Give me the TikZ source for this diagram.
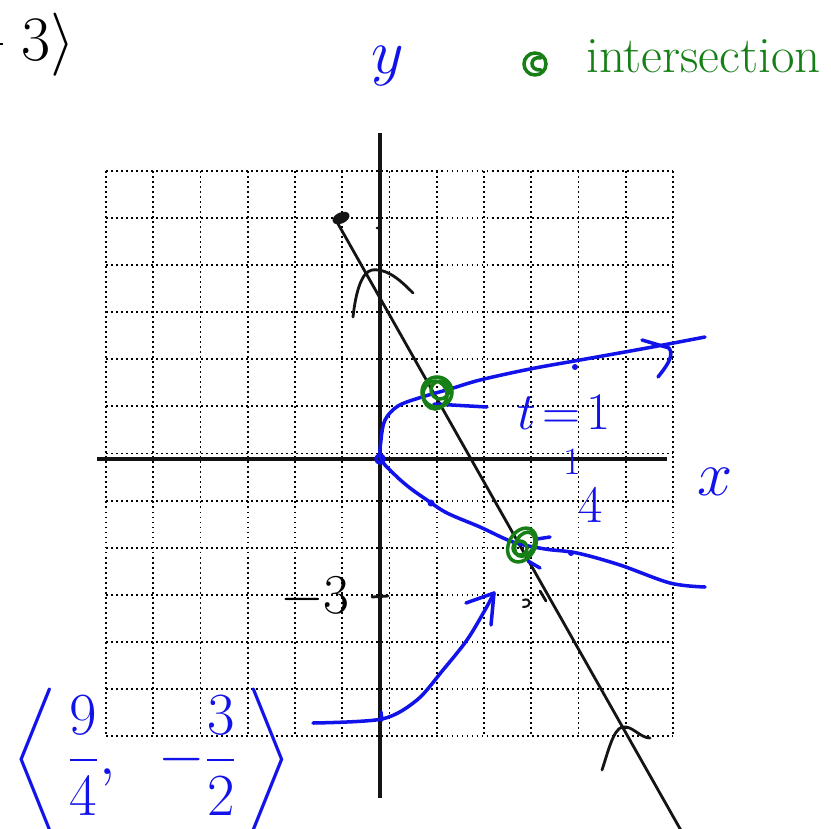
\RequirePackage{fix-cm}
\documentclass[tikz,border=0pt]{standalone}
\usepackage{amsmath,amssymb}
\usepackage{tikz}
\usetikzlibrary{calc}

\definecolor{penblue}{RGB}{18,18,235}
\definecolor{pengreen}{RGB}{22,128,22}
\definecolor{penblack}{RGB}{20,20,20}

\tikzset{
  gridline/.style={line width=1.1pt, dash pattern=on 1.1pt off 1.75pt, black},
  axisline/.style={line width=2pt, penblack},
  blackpen/.style={line width=1.6pt, penblack, line cap=round, line join=round},
  bluepen/.style={line width=2pt, penblue, line cap=round, line join=round},
  greenpen/.style={line width=2pt, pengreen, line cap=round},
  bluelabel/.style={text=penblue, inner sep=0pt},
}

\begin{document}
\begin{tikzpicture}[x=0.02cm, y=-0.02cm]
  \clip (0,0) rectangle (831,828);
  \fill[white] (0,0) rectangle (831,828);

  % tail of the line above
  \draw[line width=1.4pt] (0,44) -- (3,44);
  \node[anchor=base west, inner sep=0pt, font=\fontsize{36}{42}\selectfont] (vecend) at (21,61) {$3\rangle$};

  % legend
  \node[bluelabel, anchor=base, font=\fontsize{36}{40}\selectfont] (ylabel) at (388,73) {$y$};
  \draw[greenpen] (535,64) circle (11);
  \draw[greenpen] (541,58) .. controls (530,55) and (528,71) .. (541,70);
  \node[anchor=base west, inner sep=0pt, text=pengreen, font=\fontsize{29}{34}\selectfont] (intersect) at (586,72) {intersection};

  % grid
  \foreach \i in {0,...,12}{
    \draw[gridline] ({106+47.25*\i},171) -- ({106+47.25*\i},736);
    \draw[gridline] (106,{171+47.08*\i}) -- (673,{171+47.08*\i});
  }

  % axes
  \draw[axisline] (380,133) -- (380,798);
  \draw[axisline] (97,459) -- (667,459);
  \draw[blackpen] (372,597) -- (388,596);
  \node[inner sep=0pt, font=\fontsize{32}{36}\selectfont] (minusthree) at (315,598) {$-3$};

  % the line
  \draw[blackpen] (337,222) -- (683,834);
  \fill[penblack, rotate around={25:(341,218)}] (341,218) ellipse (9 and 5.5);
  \fill[penblack] (377,228) circle (1.5);
  \draw[blackpen] (353,317) .. controls (356,290) and (362,272) .. (372,270) .. controls (388,268) and (402,282) .. (413,293);
  \draw[blackpen] (602,770) .. controls (608,752) and (613,730) .. (622,727) .. controls (632,725) and (640,738) .. (650,738);
  \draw[blackpen, line width=1.2pt] (523,600) .. controls (531,597) and (533,607) .. (523,607);
  \draw[blackpen] (540,591) -- (546,601);

  % the curve
  \draw[bluepen] plot[smooth, tension=0.55] coordinates {(705,337) (647,348) (580,360) (530,369) (480,380) (450,389) (422,397) (398,406) (385,420) (381,440) (381,459) (395,475) (410,488) (427,500) (447,513) (480,527) (513,542) (545,549) (577,553) (620,565) (670,583) (705,587)};
  \draw[bluepen] (642,340) -- (669,348) .. controls (675,356) and (665,368) .. (658,377);
  \draw[bluepen] (380,459) circle (4);
  \draw[bluepen] (487,407) -- (434,404);
  \fill[penblue] (575,367) circle (3);
  \fill[penblue] (431,503) circle (3.5);
  \draw[bluepen] (537,539) -- (550,537);
  \draw[bluepen] (528,561) -- (540,568);
  \fill[penblue] (571,553) circle (3);

  % the point
  \draw[bluepen] plot[smooth] coordinates {(313,723) (382,719) (417,700) (443,670) (467,640) (485,610) (494,593)};
  \draw[bluepen] (466,603) -- (494,593) -- (491,625);
  \draw[bluepen] (381,712) -- (382,720);

  % labels
  \node[bluelabel, font=\fontsize{30}{34}\selectfont] (tone) at (564,413) {$t\!=\!1$};
  \node[bluelabel, font=\fontsize{22}{26}\selectfont] (numone) at (572,462) {1};
  \node[bluelabel, font=\fontsize{30}{34}\selectfont] (numfour) at (591,505) {4};
  \node[bluelabel, font=\fontsize{36}{40}\selectfont] (xlabel) at (715,482) {$x$};
  \node[bluelabel, font=\fontsize{34}{40}\selectfont] (point) at (152,760) {$\left\langle\,\dfrac{9}{4},\;\; -\dfrac{3}{2}\,\right\rangle$};

  % intersections
  \draw[greenpen] (437,392) circle (15);
  \draw[greenpen] (435,395) ellipse (12 and 14);
  \draw[greenpen] (440,390) circle (9);
  \draw[greenpen, rotate around={-30:(522,545)}] (522,545) ellipse (13 and 18);
  \draw[greenpen, rotate around={-30:(522,545)}] (524,543) ellipse (9 and 13);
  \draw[greenpen] (520,548) circle (7);
\end{tikzpicture}
\end{document}
